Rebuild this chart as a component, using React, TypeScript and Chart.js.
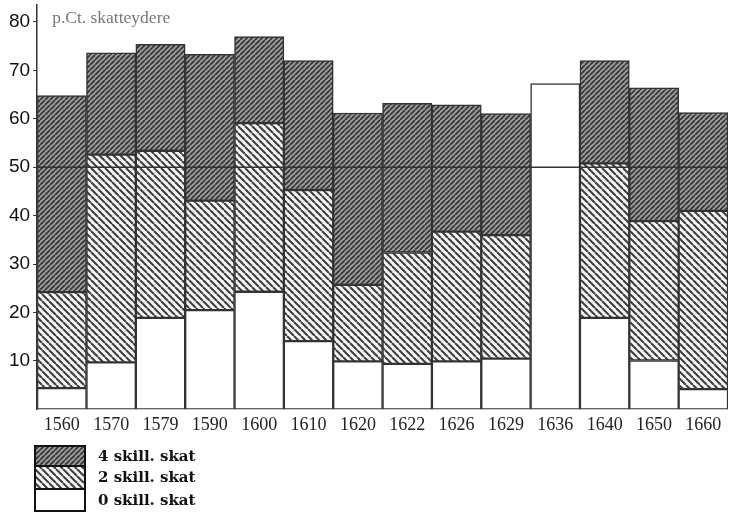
import React, { useEffect, useRef } from "react";
import { Chart, registerables } from "chart.js";

Chart.register(...registerables);

const categories = ["1560", "1570", "1579", "1590", "1600", "1610", "1620", "1622", "1626", "1629", "1636", "1640", "1650", "1660"];
const zeroSkill = [4.4, 9.7, 18.9, 20.5, 24.3, 14.1, 9.9, 9.4, 9.9, 10.5, 67.3, 18.9, 10.1, 4.2];
const twoSkill = [19.8, 42.9, 34.5, 22.6, 34.8, 31.2, 15.8, 23.0, 26.8, 25.5, 0, 31.9, 28.8, 36.8];
const fourSkill = [40.6, 21.0, 22.0, 30.2, 17.9, 26.7, 35.5, 30.8, 26.2, 25.1, 0, 21.2, 27.5, 20.3];
const yTicks = [10, 20, 30, 40, 50, 60, 70, 80];
const seriesLabels = ["0 skill. skat", "2 skill. skat", "4 skill. skat"];
const axisTitle = "p.Ct. skatteydere";
const referenceLine = 50;

const SERIF = "'Liberation Serif', 'DejaVu Serif', serif";
const SANS = "'Liberation Sans', 'DejaVu Sans', sans-serif";

function makeHatch(dir: "fwd" | "back", size: number, bg: string, fg: string, lw: number): CanvasPattern | string {
  const c = document.createElement("canvas");
  c.width = size;
  c.height = size;
  const g = c.getContext("2d");
  if (!g) return bg;
  g.fillStyle = bg;
  g.fillRect(0, 0, size, size);
  g.strokeStyle = fg;
  g.lineWidth = lw;
  g.beginPath();
  for (let k = -1; k <= 1; k++) {
    if (dir === "fwd") {
      g.moveTo(k * size, size);
      g.lineTo(k * size + size, 0);
    } else {
      g.moveTo(k * size, 0);
      g.lineTo(k * size + size, size);
    }
  }
  g.stroke();
  const p = g.createPattern(c, "repeat");
  return p || bg;
}

export default function App() {
  const ref = useRef<HTMLCanvasElement | null>(null);

  useEffect(() => {
    document.body.style.margin = "0";
    const canvas = ref.current;
    if (!canvas) return;
    const white = "#ffffff";
    const twoPat = makeHatch("back", 7, "#f6f6f6", "#404040", 2.1);
    const fourPat = makeHatch("fwd", 5, "#9c9c9c", "#333333", 1.6);
    const fills = [white, twoPat, fourPat];

    const overlay = {
      id: "overlay",
      afterDatasetsDraw(chart: any) {
        const { ctx, chartArea, scales } = chart;
        const y = scales.y.getPixelForValue(referenceLine);
        ctx.save();
        ctx.strokeStyle = "#333";
        ctx.lineWidth = 1.5;
        ctx.beginPath();
        ctx.moveTo(chartArea.left, y);
        ctx.lineTo(chartArea.right, y);
        ctx.stroke();
        ctx.restore();
      },
      afterDraw(chart: any) {
        const { ctx, chartArea } = chart;
        ctx.save();
        ctx.fillStyle = "#777";
        ctx.font = `17.5px ${SERIF}`;
        ctx.textBaseline = "middle";
        ctx.textAlign = "left";
        ctx.fillText(axisTitle, chartArea.left + 15, 18);

        // legend
        const bx = 35;
        const bw = 50;
        const rows = [
          { label: seriesLabels[2], fill: fills[2], y: 446, h: 20 },
          { label: seriesLabels[1], fill: fills[1], y: 466, h: 23 },
          { label: seriesLabels[0], fill: fills[0], y: 489, h: 22 },
        ];
        ctx.font = `bold 15px 'DejaVu Serif', serif`;
        for (const r of rows) {
          ctx.fillStyle = r.fill as any;
          ctx.fillRect(bx, r.y, bw, r.h);
          ctx.strokeStyle = "#111";
          ctx.lineWidth = 2;
          ctx.strokeRect(bx, r.y, bw, r.h);
          ctx.fillStyle = "#111";
          ctx.fillText(r.label, 98, r.y + r.h / 2 + 1);
        }
        ctx.restore();
      },
    };

    const mk = (label: string, data: number[], fill: any) => ({
      label,
      data,
      backgroundColor: fill,
      borderColor: "#333",
      borderWidth: 1.5,
      borderSkipped: false as any,
      categoryPercentage: 1,
      barPercentage: 1,
    });

    const chart = new Chart(canvas, {
      type: "bar",
      data: {
        labels: categories,
        datasets: [
          mk(seriesLabels[0], zeroSkill, fills[0]),
          mk(seriesLabels[1], twoSkill, fills[1]),
          mk(seriesLabels[2], fourSkill, fills[2]),
        ],
      },
      options: {
        animation: false,
        responsive: false,
        devicePixelRatio: 1,
        layout: { padding: { top: 5, right: 1, bottom: 83, left: 6 } },
        plugins: {
          legend: { display: false },
          tooltip: { enabled: false },
          title: { display: false },
        },
        scales: {
          x: {
            stacked: true,
            grid: { display: false },
            border: { display: false },
            ticks: { color: "#222", font: { family: SERIF, size: 18 }, padding: -3, maxRotation: 0 },
          },
          y: {
            stacked: true,
            min: 0,
            max: 83.5,
            afterBuildTicks(axis: any) {
              axis.ticks = yTicks.map((v) => ({ value: v }));
            },
            afterFit(axis: any) {
              axis.paddingTop = 0;
              axis.paddingBottom = 0;
            },
            grid: { drawOnChartArea: false, drawTicks: true, tickLength: 4, color: "#333" },
            border: { display: true, color: "#333", width: 1.5 },
            ticks: { color: "#111", font: { family: SANS, size: 19 }, padding: 3 },
          },
        },
      },
      plugins: [overlay],
    });
    return () => chart.destroy();
  }, []);

  return <canvas ref={ref} width={729} height={516} style={{ display: "block" }} />;
}
